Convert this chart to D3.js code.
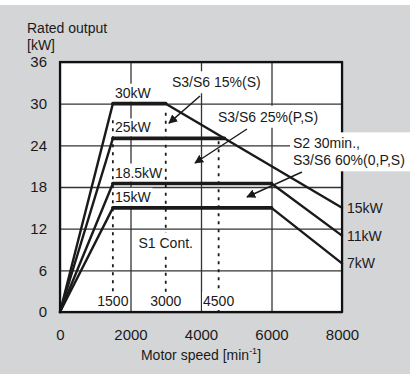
<!DOCTYPE html>
<html>
<head>
<meta charset="utf-8">
<script src="https://cdn.jsdelivr.net/npm/d3@7"></script>
<style>
  body { margin: 0; background: #fff; }
  svg { display: block; font-family: "Liberation Sans", Arial, sans-serif; }
</style>
</head>
<body>
<svg id="chart" width="410" height="374"></svg>
<script>
// axis ticks
const speedTicks = [0, 2000, 4000, 6000, 8000];
const outputTicks = [0, 6, 12, 18, 24, 30, 36];

// duty curves [speed min^-1, output kW]
const dutyS3_15 = [[0, 0], [1500, 30], [3000, 30], [8000, 15]];
const dutyS3_25 = [[0, 0], [1500, 25], [4667, 25]]; // joins the 15% curve
const dutyS2_60 = [[0, 0], [1500, 18.5], [6000, 18.5], [8000, 11]];
const dutyS1 = [[0, 0], [1500, 15], [6000, 15], [8000, 7]];
const curves = [dutyS3_15, dutyS3_25, dutyS2_60, dutyS1];

const ratedLabels = ["30kW", "25kW", "18.5kW", "15kW"];
const endLabels = ["15kW", "11kW", "7kW"];
const endCurves = [dutyS3_15, dutyS2_60, dutyS1];

// base speeds (dotted) and where they start
const baseSpeeds = [1500, 3000, 4500];
const baseTops = [27.6, 28.7, 24.6];

// duty annotations, anchored in data units
const dutyLabels = [["S3/S6 15%(S)"], ["S3/S6 25%(P,S)"], ["S2 30min.,", "S3/S6 60%(0,P,S)"]];
const dutyLabelAt = [[3177, 32.36], [4482, 27.4], [6610, 23.57]];
const dutyArrows = [
  [[3972, 31.1], [3092, 27.2]],
  [[5305, 26.35], [3830, 21.46]],
  [[6865, 20.16], [5305, 16.56]]
];
const contLabel = "S1 Cont.";
const contAt = [3000, 9.22];

const W = 410, H = 374;
const margin = { top: 62, right: 68, bottom: 62, left: 60 };
const width = W - margin.left - margin.right;
const height = H - margin.top - margin.bottom;
const ink = "#1a1a1a";

const svg = d3.select("#chart");

// panel background
svg.append("rect").attr("x", 0).attr("y", 5).attr("width", W).attr("height", H - 5).attr("fill", "#d4d5d7");

const xScale = d3.scaleLinear().domain([0, 8000]).range([0, width]);
const yScale = d3.scaleLinear().domain([0, 36]).range([height, 0]);

const g = svg.append("g").attr("transform", `translate(${margin.left},${margin.top})`);

g.append("rect").attr("width", width).attr("height", height).attr("fill", "white");

// grid + tick labels via axes
const yAxis = g.append("g")
  .call(d3.axisLeft(yScale).tickValues(outputTicks).tickSize(-width).tickPadding(13));
const xAxis = g.append("g")
  .attr("transform", `translate(0,${height})`)
  .call(d3.axisBottom(xScale).tickValues(speedTicks).tickFormat(d3.format("d")).tickSize(-height).tickPadding(17));

[xAxis, yAxis].forEach(a => {
  a.select(".domain").remove();
  a.selectAll("line").attr("stroke", "#333").attr("stroke-width", 1.3);
  a.selectAll("text").attr("fill", ink).style("font-size", "15px").style("font-family", "Liberation Sans, Arial, sans-serif");
});

// dotted base speed lines
g.append("g").selectAll("line")
  .data(baseSpeeds)
  .join("line")
  .attr("x1", d => xScale(d))
  .attr("x2", d => xScale(d))
  .attr("y1", (d, i) => yScale(baseTops[i]))
  .attr("y2", yScale(0))
  .attr("stroke", ink)
  .attr("stroke-width", 1.8)
  .attr("stroke-dasharray", "3,5");

function boxedText(parent, lines, px, py, anchor, size, pad, lineGap) {
  const grp = parent.append("g");
  const rect = grp.append("rect").attr("fill", "white");
  const t = grp.append("text")
    .attr("text-anchor", anchor)
    .attr("fill", ink)
    .style("font-size", size + "px");
  lines.forEach((s, i) => {
    t.append("tspan").attr("x", px).attr("y", py + i * lineGap).text(s);
  });
  const b = t.node().getBBox();
  rect.attr("x", b.x - pad).attr("y", b.y - pad)
    .attr("width", b.width + 2 * pad).attr("height", b.height + 2 * pad);
  return grp;
}

const labels = g.append("g");

// speed labels at bottom
baseSpeeds.forEach(s => {
  boxedText(labels, [String(s)], xScale(s), yScale(0) - 6, "middle", 14, 1, 0);
});

boxedText(labels, [contLabel], xScale(contAt[0]), yScale(contAt[1]), "middle", 14, 2, 0);

// rated output labels at the corners
curves.forEach((c, i) => {
  const p = c[1];
  boxedText(labels, [ratedLabels[i]], xScale(p[0]) + 2, yScale(p[1]) - 6, "start", 14, 1, 0);
});

dutyLabels.slice(0, 2).forEach((lines, i) => {
  boxedText(labels, lines, xScale(dutyLabelAt[i][0]), yScale(dutyLabelAt[i][1]), "start", 14, 3, 17);
});

// curves: flat parts heavier than slopes
const segs = [];
curves.forEach(c => d3.pairs(c).forEach(([a, b]) => segs.push({ a, b })));
g.append("g").selectAll("line")
  .data(segs)
  .join("line")
  .attr("x1", d => xScale(d.a[0]))
  .attr("y1", d => yScale(d.a[1]))
  .attr("x2", d => xScale(d.b[0]))
  .attr("y2", d => yScale(d.b[1]))
  .attr("stroke", ink)
  .attr("stroke-linecap", "round")
  .attr("stroke-width", d => d.a[1] === d.b[1] ? 3.6 : 2.4);

// arrows
svg.append("defs").append("marker")
  .attr("id", "arrow")
  .attr("viewBox", "0 0 10 10")
  .attr("refX", 9).attr("refY", 5)
  .attr("markerWidth", 9).attr("markerHeight", 9)
  .attr("markerUnits", "userSpaceOnUse")
  .attr("orient", "auto")
  .append("path")
  .attr("d", "M0,0 L10,5 L0,10 Z")
  .attr("fill", ink);

g.append("g").selectAll("line")
  .data(dutyArrows)
  .join("line")
  .attr("x1", d => xScale(d[0][0]))
  .attr("y1", d => yScale(d[0][1]))
  .attr("x2", d => xScale(d[1][0]))
  .attr("y2", d => yScale(d[1][1]))
  .attr("stroke", ink)
  .attr("stroke-width", 1.4)
  .attr("marker-end", "url(#arrow)");

// plot border
g.append("rect").attr("width", width).attr("height", height)
  .attr("fill", "none").attr("stroke", "#111").attr("stroke-width", 2.2);

// S2 label sits over the border
const s2 = dutyLabels[2];
boxedText(g, s2, xScale(dutyLabelAt[2][0]), yScale(dutyLabelAt[2][1]), "start", 14, 3, 17)
  .select("rect").attr("width", W);

// end-of-curve labels
g.append("g").selectAll("text")
  .data(endCurves)
  .join("text")
  .attr("x", d => xScale(d[d.length - 1][0]) + 5)
  .attr("y", d => yScale(d[d.length - 1][1]))
  .attr("dy", "0.36em")
  .attr("fill", ink)
  .style("font-size", "14px")
  .text((d, i) => endLabels[i]);

// axis titles
svg.append("text").attr("x", 27).attr("y", 33).attr("fill", ink).style("font-size", "14px").text("Rated output");
svg.append("text").attr("x", 27).attr("y", 50).attr("fill", ink).style("font-size", "14px").text("[kW]");

const xt = svg.append("text")
  .attr("x", margin.left + width / 2).attr("y", 360)
  .attr("text-anchor", "middle").attr("fill", ink).style("font-size", "14px");
xt.append("tspan").text("Motor speed [min");
xt.append("tspan").attr("dy", -6).style("font-size", "9px").text("-1");
xt.append("tspan").attr("dy", 6).text("]");
</script>
</body>
</html>
